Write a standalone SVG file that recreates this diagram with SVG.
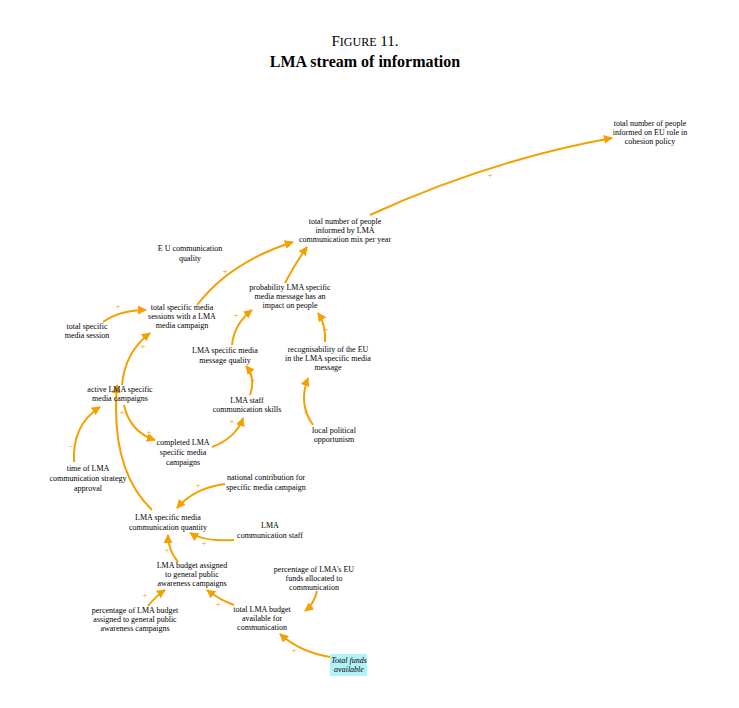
<svg xmlns="http://www.w3.org/2000/svg" width="739" height="708" viewBox="0 0 739 708">
<style>
text{font-family:"Liberation Serif",serif;font-size:8px;fill:#000;text-anchor:middle}
.t1{font-size:15px}
.t2{font-size:16px;font-weight:bold}
.c path{fill:none;stroke:#f5a000;stroke-width:2;marker-end:url(#ah)}
.s{fill:#f5a000;font-size:9px}
</style>
<defs><marker id="ah" viewBox="0 0 10 10" refX="9" refY="5" markerWidth="4.5" markerHeight="4.5" orient="auto"><path d="M0,0L10,5L0,10z" fill="#f5a000"/></marker></defs>
<rect width="739" height="708" fill="#fff"/>
<text x="365" y="46" class="t1">F<tspan font-size="12">IGURE</tspan> 11.</text>
<text x="365" y="67" class="t2">LMA stream of information</text>
<g class="c">
<path d="M370,215 Q490,160 612,138"/>
<path d="M197,305 Q230,262 293,242"/>
<path d="M285,283 Q296,262 307,247"/>
<path d="M103,322 Q120,310 146,310"/>
<path d="M122,385 Q125,352 150,333"/>
<path d="M232,345 Q234,324 252,310"/>
<path d="M325,342 Q326,325 318,313"/>
<path d="M250,395 Q256,378 246,366"/>
<path d="M313,425 Q298,404 308,378"/>
<path d="M124,405 Q130,432 155,440"/>
<path d="M212,447 Q236,438 243,418"/>
<path d="M74,462 Q72,425 100,407"/>
<path d="M152,510 Q110,470 117,385"/>
<path d="M225,484 Q194,488 177,508"/>
<path d="M234,540 Q205,542 190,533"/>
<path d="M178,562 Q168,550 168,535"/>
<path d="M148,606 Q156,596 165,590"/>
<path d="M234,605 Q220,600 207,590"/>
<path d="M317,591 Q314,604 305,611"/>
<path d="M330,657 Q300,652 280,634"/>
</g>
<g id="signs">
<text class="s" x="490" y="178">+</text><text class="s" x="225" y="274">+</text><text class="s" x="306" y="252">+</text>
<text class="s" x="118" y="309">+</text><text class="s" x="143" y="349">+</text><text class="s" x="236" y="318">+</text>
<text class="s" x="326" y="332">+</text><text class="s" x="253" y="383">+</text><text class="s" x="306" y="415">-</text>
<text class="s" x="149" y="435">+</text><text class="s" x="232" y="424">+</text><text class="s" x="71" y="449">-</text>
<text class="s" x="122" y="415">+</text><text class="s" x="198" y="488">+</text><text class="s" x="204" y="546">+</text>
<text class="s" x="167" y="553">+</text><text class="s" x="145" y="598">+</text><text class="s" x="218" y="607">+</text>
<text class="s" x="311" y="610">+</text><text class="s" x="294" y="653">+</text>
</g>
<g id="n1"><text x="650" y="126">total number of people</text><text x="650" y="135">informed on EU role in</text><text x="650" y="144">cohesion policy</text></g>
<g id="n2"><text x="345" y="224">total number of people</text><text x="345" y="233">informed by LMA</text><text x="345" y="242">communication mix per year</text></g>
<g id="n3"><text x="190" y="251">E U communication</text><text x="190" y="261">quality</text></g>
<g id="n4"><text x="290" y="290">probability LMA specific</text><text x="290" y="299">media message has an</text><text x="290" y="308">impact on people</text></g>
<g id="n5"><text x="182" y="310">total specific media</text><text x="182" y="319">sessions with a LMA</text><text x="182" y="328">media campaign</text></g>
<g id="n6"><text x="87" y="329">total specific</text><text x="87" y="338">media session</text></g>
<g id="n7"><text x="328" y="352">recognisability of the EU</text><text x="328" y="361">in the LMA specific media</text><text x="328" y="370">message</text></g>
<g id="n8"><text x="225" y="353">LMA specific media</text><text x="225" y="363">message quality</text></g>
<g id="n9"><text x="120" y="392">active LMA specific</text><text x="120" y="401">media campaigns</text></g>
<g id="n10"><text x="247" y="403">LMA staff</text><text x="247" y="412">communication skills</text></g>
<g id="n11"><text x="334" y="433">local political</text><text x="334" y="442">opportunism</text></g>
<g id="n12"><text x="183" y="445">completed LMA</text><text x="183" y="455">specific media</text><text x="183" y="465">campaigns</text></g>
<g id="n13"><text x="88" y="471">time of LMA</text><text x="88" y="481">communication strategy</text><text x="88" y="491">approval</text></g>
<g id="n14"><text x="266" y="480">national contribution for</text><text x="266" y="490">specific media campaign</text></g>
<g id="n15"><text x="168" y="520">LMA specific media</text><text x="168" y="530">communication quantity</text></g>
<g id="n16"><text x="270" y="528">LMA</text><text x="270" y="538">communication staff</text></g>
<g id="n17"><text x="192" y="568">LMA budget assigned</text><text x="192" y="577">to general public</text><text x="192" y="586">awareness campaigns</text></g>
<g id="n18"><text x="314" y="572">percentage of LMA's EU</text><text x="314" y="581">funds allocated to</text><text x="314" y="590">communication</text></g>
<g id="n19"><text x="262" y="612">total LMA budget</text><text x="262" y="621">available for</text><text x="262" y="630">communication</text></g>
<g id="n20"><text x="135" y="613">percentage of LMA budget</text><text x="135" y="622">assigned to general public</text><text x="135" y="631">awareness campaigns</text></g>
<g id="n21"><rect x="330" y="654" width="37" height="22" fill="#b3f0f8"/><text x="349" y="663" font-style="italic">Total funds</text><text x="349" y="672" font-style="italic">available</text></g>
</svg>
